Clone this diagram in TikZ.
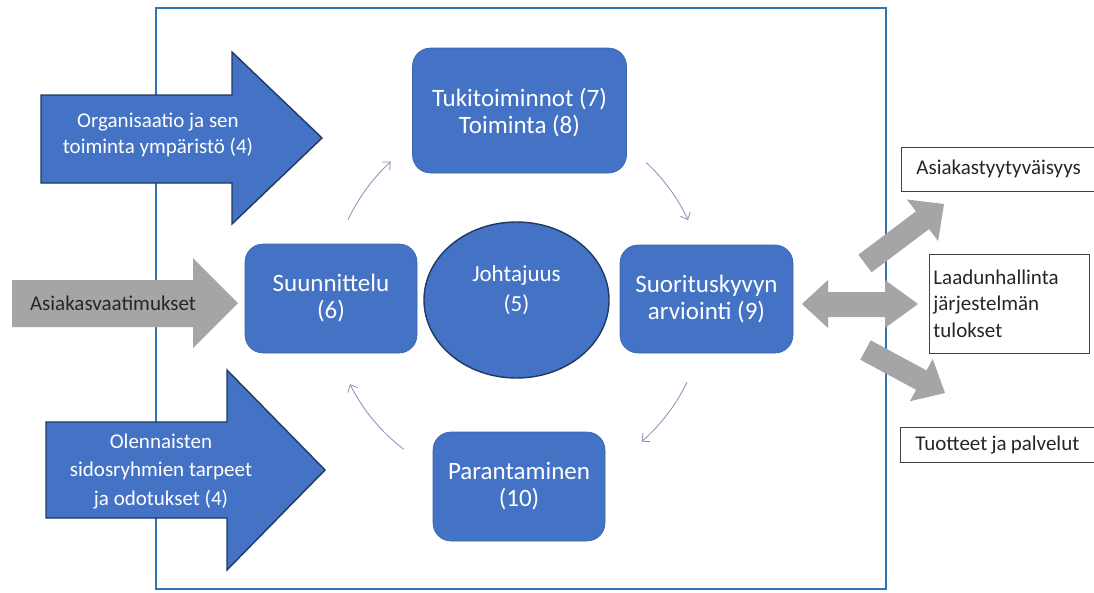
\documentclass[tikz,border=0pt]{standalone}
\usepackage{fontspec}
\setmainfont{Carlito}
\usetikzlibrary{shapes.geometric,arrows.meta}
\definecolor{boxblue}{HTML}{4472C4}
\definecolor{boxedge}{HTML}{3A62AC}
\definecolor{navy}{HTML}{1F3864}
\definecolor{framec}{HTML}{2E75B6}
\definecolor{arrgray}{HTML}{A5A5A5}
\definecolor{cycc}{HTML}{7F93B5}
\definecolor{txtdark}{HTML}{262626}
\newcommand\mytightspaces{\spaceskip=4.2pt plus 0.5pt minus 0.5pt\relax}
\begin{document}
\begin{tikzpicture}[x=1pt,y=-1pt,
  bluebox/.style={rectangle, rounded corners=18pt, fill=boxblue, draw=boxedge, line width=0.6pt, text=white, align=center, font=\fontsize{25}{27}\selectfont, inner sep=0pt},
  bigarrow/.style={fill=boxblue, draw=navy, line width=1.4pt, line join=miter},
  grayarrow/.style={fill=arrgray, draw=none},
  arrowtext/.style={text=white, align=center},
  outbox/.style={rectangle, draw=black!75, line width=0.8pt, fill=white, align=left, font=\fontsize{21}{26.5}\selectfont, text=txtdark, execute at begin node=\mytightspaces},
  cyc/.style={draw=cycc, line width=0.8pt, -{Straight Barb[length=6pt,width=11pt]}},
]
\useasboundingbox (0,0) rectangle (1094,592);
\fill[white] (0,0) rectangle (1094,592);
% frame
\draw[framec, line width=2pt] (156,8) rectangle (886,589);

% input arrows
\draw[bigarrow] (41,95) -- (232,95) -- (232,52) -- (322,138) -- (232,224) -- (232,183) -- (41,183) -- cycle;
\node[arrowtext, font=\fontsize{21}{26}\selectfont] (org) at (158,135) {Organisaatio ja sen\\toiminta ympäristö (4)};

\fill[grayarrow] (12,280) -- (193,280) -- (193,258) -- (238,303) -- (193,348) -- (193,327) -- (12,327) -- cycle;
\node[font=\fontsize{21}{24}\selectfont, text=txtdark] (req) at (113,303) {Asiakasvaatimukset};

\draw[bigarrow] (46,422) -- (227,422) -- (227,370) -- (325,470) -- (227,570) -- (227,518) -- (46,518) -- cycle;
\node[arrowtext, font=\fontsize{21}{28.5}\selectfont] (stake) at (161,471) {Olennaisten\\sidosryhmien tarpeet\\ja odotukset (4)};

% process boxes
\node[bluebox, minimum width=172, minimum height=109] (plan) at (331,298.5) {Suunnittelu\\(6)};
\node[bluebox, minimum width=214, minimum height=125, text depth=-1pt] (supp) at (519.5,110.5) {Tukitoiminnot (7)\\Toiminta (8)};
\node[bluebox, minimum width=173, minimum height=108] (eval) at (706.5,299) {Suorituskyvyn\\arviointi (9)};
\node[bluebox, minimum width=172, minimum height=109] (impr) at (519,486.5) {Parantaminen\\(10)};
\node[ellipse, fill=boxblue, draw=navy, line width=1.4pt, minimum width=185, minimum height=156, text=white, align=center, font=\fontsize{23}{30}\selectfont, inner sep=0pt, text depth=22pt] (lead) at (516.5,300) {Johtajuus\\(5)};

% cycle arrows
\coordinate (C) at (518,300);
\draw[cyc] ([shift={(-154.7:188)}]C) arc[start angle=-154.7, end angle=-132.6, radius=188];
\draw[cyc] ([shift={(-46.9:188)}]C) arc[start angle=-46.9, end angle=-25.2, radius=188];
\draw[cyc] ([shift={(26:188)}]C) arc[start angle=26, end angle=48.9, radius=188];
\draw[cyc] ([shift={(127.4:188)}]C) arc[start angle=127.4, end angle=153.4, radius=188];

% output arrows
\fill[grayarrow] (858.4,254.7) -- (915.9,211.4) -- (906.9,199.5) -- (944,204) -- (938.1,241.0) -- (929.1,229.0) -- (871.6,272.3) -- cycle;
\fill[grayarrow] (802,304) -- (828,280) -- (828,292) -- (885,292) -- (885,280) -- (918,304) -- (885,328) -- (885,317) -- (828,317) -- (828,328) -- cycle;
\fill[grayarrow] (870.7,340.3) -- (926.5,370.4) -- (932.7,359.0) -- (945,393) -- (909.9,401.2) -- (916.1,389.8) -- (860.3,359.7) -- cycle;

% output boxes
\node[outbox, anchor=west, text width=200pt, inner xsep=15pt, inner ysep=0pt, minimum height=44pt] (sat) at (901,169) {Asiakastyytyväisyys};
\node[outbox, anchor=west, text width=152pt, inner xsep=4pt, inner ysep=0pt, minimum height=99pt] (qms) at (929,303.5) {Laadunhallinta\\järjestelmän\\tulokset};
\node[outbox, anchor=west, text width=200pt, inner xsep=15pt, inner ysep=0pt, minimum height=35pt] (prod) at (900,444.5) {Tuotteet ja palvelut};
\end{tikzpicture}
\end{document}
